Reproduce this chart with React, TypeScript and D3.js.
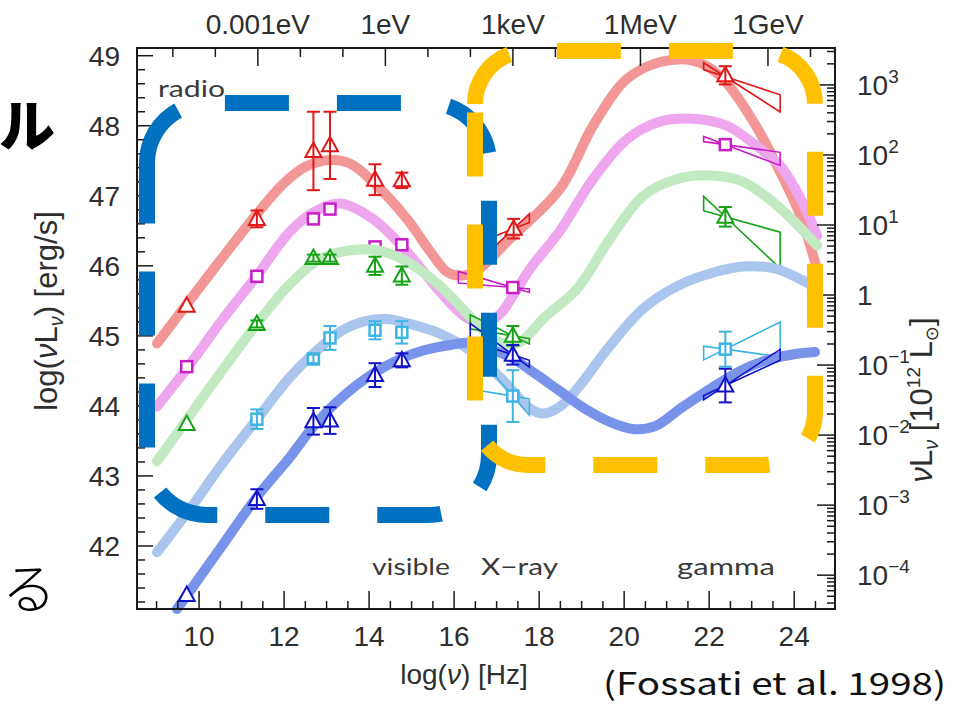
import React from 'react';
import * as d3 from 'd3';

const W = 954;
const H = 707;
const FRAME = { left: 137, right: 835, top: 48, bottom: 609 };
const X_DOMAIN: [number, number] = [8.54, 24.96];
const Y_DOMAIN: [number, number] = [41.1, 49.11];

// log10 of 10^12 solar luminosities in erg/s
const LOG_1E12_LSUN = 45.583;

// Model SEDs: [log(nu) Hz, log(nu L_nu) erg/s]
const curveRed: [number, number][] = [
  [9.01, 44.89], [9.72, 45.46], [10.49, 46.07], [11.36, 46.74], [11.98, 47.17], [12.49, 47.41],
  [13.08, 47.51], [13.55, 47.46], [14.09, 47.2], [14.89, 46.67], [15.44, 46.2], [15.84, 45.91],
  [16.14, 45.86], [16.49, 45.91], [17.32, 46.39], [18.49, 47.1], [19.27, 48.0], [20.07, 48.67],
  [20.85, 48.91], [21.62, 48.93], [22.26, 48.71], [23.04, 48.06], [23.67, 47.34], [24.15, 46.71],
  [24.45, 46.14], [24.56, 45.89],
];
const curveMagenta: [number, number][] = [
  [9.01, 43.99], [9.72, 44.54], [10.56, 45.24], [11.36, 45.86], [12.14, 46.49], [12.68, 46.76],
  [13.32, 46.89], [14.09, 46.67], [14.89, 46.2], [15.67, 45.63], [16.26, 45.27], [16.66, 45.17],
  [17.08, 45.31], [17.39, 45.58], [17.79, 45.96], [18.49, 46.5], [19.27, 47.24], [20.07, 47.81],
  [20.85, 48.06], [21.62, 48.1], [22.42, 48.0], [23.2, 47.67], [23.67, 47.43], [24.15, 46.96],
  [24.54, 46.43],
];
const curveGreen: [number, number][] = [
  [9.01, 43.21], [9.72, 43.81], [10.49, 44.46], [11.36, 45.17], [12.14, 45.74], [12.85, 46.1],
  [13.55, 46.22], [14.21, 46.22], [14.89, 46.06], [15.67, 45.71], [16.38, 45.27], [16.85, 44.99],
  [17.2, 44.89], [17.55, 44.91], [18.14, 45.27], [18.89, 45.67], [19.67, 46.39], [20.45, 47.0],
  [21.25, 47.24], [22.02, 47.29], [22.8, 47.2], [23.6, 46.86], [24.54, 46.29],
];
const curveLightBlue: [number, number][] = [
  [9.01, 41.91], [9.79, 42.53], [10.54, 43.17], [11.36, 43.81], [12.14, 44.41], [12.68, 44.74],
  [13.32, 45.06], [13.91, 45.21], [14.42, 45.24], [14.96, 45.17], [15.67, 45.03], [16.38, 44.79],
  [17.08, 44.41], [17.55, 44.1], [17.79, 43.96], [18.09, 43.89], [18.49, 43.99], [18.89, 44.24],
  [19.67, 44.86], [20.45, 45.39], [21.25, 45.71], [22.02, 45.89], [22.8, 45.99], [23.55, 45.96],
  [24.14, 45.81], [24.56, 45.67],
];
const curveBlue: [number, number][] = [
  [9.48, 41.1], [9.72, 41.3], [10.49, 41.96], [11.36, 42.7], [12.14, 43.27], [12.68, 43.7],
  [13.32, 44.1], [14.09, 44.46], [14.73, 44.67], [15.27, 44.79], [15.91, 44.87], [16.38, 44.9],
  [16.85, 44.81], [17.32, 44.7], [17.91, 44.46], [18.49, 44.21], [19.08, 43.96], [19.67, 43.77],
  [20.21, 43.67], [20.73, 43.71], [21.32, 43.96], [22.02, 44.24], [22.73, 44.5], [23.44, 44.67],
  [24.02, 44.74], [24.49, 44.77],
];

// Measured points: [log(nu), log(nu L_nu), error]
const pointsRed: [number, number, number][] = [
  [9.71, 45.43, 0], [11.36, 46.67, 0.12], [12.69, 47.64, 0.56], [13.08, 47.72, 0.48],
  [14.14, 47.23, 0.22], [14.77, 47.22, 0.11], [17.4, 46.53, 0.14], [22.38, 48.72, 0.13],
];
const pointsMagenta: [number, number, number][] = [
  [9.71, 44.56, 0], [11.36, 45.85, 0], [12.69, 46.67, 0], [13.08, 46.81, 0],
  [14.14, 46.27, 0], [14.77, 46.3, 0], [17.38, 45.69, 0], [22.38, 47.73, 0],
];
const pointsGreen: [number, number, number][] = [
  [9.71, 43.74, 0], [11.36, 45.17, 0.05], [12.69, 46.11, 0.05], [13.08, 46.11, 0.05],
  [14.14, 46.0, 0.13], [14.77, 45.86, 0.13], [17.38, 45.0, 0.14], [22.38, 46.7, 0.14],
];
const pointsCyan: [number, number, number][] = [
  [11.36, 43.81, 0.14], [12.69, 44.67, 0.06], [13.08, 44.97, 0.17], [14.14, 45.08, 0.13],
  [14.77, 45.05, 0.16], [17.38, 44.14, 0.37], [22.38, 44.81, 0.25],
];
const pointsBlue: [number, number, number][] = [
  [9.71, 41.3, 0], [11.36, 42.67, 0.14], [12.69, 43.78, 0.19], [13.08, 43.79, 0.19],
  [14.14, 44.44, 0.17], [14.77, 44.65, 0.1], [17.38, 44.73, 0.14], [22.38, 44.29, 0.24],
];

// Spectral bow-ties: [pivot log(nu), pivot log(nu L_nu), left log(nu), right log(nu), slope A, slope B]
const bowtiesRed: number[][] = [[17.4, 46.53, 16.8, 17.77, 0.57, 0.24], [22.38, 48.7, 21.87, 23.67, -0.39, -0.2]];
const bowtiesMagenta: number[][] = [[17.38, 45.69, 16.1, 17.77, -0.05, -0.18], [22.38, 47.73, 21.87, 23.67, -0.085, -0.23]];
const bowtiesGreen: number[][] = [[17.38, 45.0, 16.38, 17.77, -0.1, -0.3], [22.38, 46.7, 21.87, 23.67, -0.17, -0.57]];
const bowtiesCyan: number[][] = [[17.38, 44.14, 16.38, 17.77, -0.1, -0.7], [22.38, 44.81, 21.87, 23.67, 0.3, -0.085]];
const bowtiesBlue: number[][] = [[17.38, 44.73, 16.38, 17.77, -0.2, -0.45], [22.38, 44.29, 21.87, 23.67, 0.4, 0.28]];

// Axis ticks and labels
const bottomTicks = [10, 12, 14, 16, 18, 20, 22, 24];
const leftTicks = [42, 43, 44, 45, 46, 47, 48, 49];
const rightDecades = [-4, -3, -2, -1, 0, 1, 2, 3];
const energyLabels = ['0.001eV', '1eV', '1keV', '1MeV', '1GeV'];
const energyLogNu = [11.383, 14.383, 17.383, 20.383, 23.383];
const bandLabels = ['radio', 'visible', 'X\u2212ray', 'gamma'];

const AXIS_FONT = "'Liberation Sans', Arial, Helvetica, sans-serif";
const BAND_FONT = "Lato, 'Open Sans', sans-serif";
const JP_FONT = "'Noto Sans CJK JP', 'Noto Sans CJK SC', sans-serif";

function roundRect(x0: number, y0: number, x1: number, y1: number, r: number) {
  const p = d3.path();
  p.moveTo(x0, y0 + r);
  p.arcTo(x0, y0, x0 + r, y0, r);
  p.lineTo(x1 - r, y0);
  p.arcTo(x1, y0, x1, y0 + r, r);
  p.lineTo(x1, y1 - r);
  p.arcTo(x1, y1, x1 - r, y1, r);
  p.lineTo(x0 + r, y1);
  p.arcTo(x0, y1, x0, y1 - r, r);
  p.closePath();
  return p.toString();
}

export default function App() {
  const x = d3.scaleLinear().domain(X_DOMAIN).range([FRAME.left, FRAME.right]);
  const y = d3.scaleLinear().domain(Y_DOMAIN).range([FRAME.bottom, FRAME.top]);
  const line = d3
    .line<[number, number]>()
    .x((d) => x(d[0]))
    .y((d) => y(d[1]))
    .curve(d3.curveCatmullRom.alpha(0.5));

  const series = [
    { curve: curveRed, curveColor: '#F29696', color: '#E01818', marker: 'tri', points: pointsRed, bowties: bowtiesRed },
    { curve: curveMagenta, curveColor: '#EEA6EE', color: '#C81EC8', marker: 'sq', points: pointsMagenta, bowties: bowtiesMagenta },
    { curve: curveGreen, curveColor: '#C2EAC2', color: '#16A216', marker: 'tri', points: pointsGreen, bowties: bowtiesGreen },
    { curve: curveLightBlue, curveColor: '#ABC6EE', color: '#3DB4E4', marker: 'sq', points: pointsCyan, bowties: bowtiesCyan },
    { curve: curveBlue, curveColor: '#7893EA', color: '#1212C8', marker: 'tri', points: pointsBlue, bowties: bowtiesBlue },
  ];

  const bowtiePath = (b: number[]) => {
    const [vp, lp, vl, vr, sa, sb] = b;
    const at = (v: number, s: number) => lp + s * (v - vp);
    const pts: [number, number][] = [
      [vl, at(vl, sa)], [vp, lp], [vr, at(vr, sa)], [vr, at(vr, sb)], [vp, lp], [vl, at(vl, sb)],
    ];
    return 'M' + pts.map((d) => `${x(d[0])},${y(d[1])}`).join('L') + 'Z';
  };

  const leftMinor = d3.range(41.2, 49.1, 0.2).filter((v) => v >= Y_DOMAIN[0] && v <= Y_DOMAIN[1]);
  const bottomMinor = d3.range(9, 25, 0.5);
  const topTicks = d3.range(9.383, 24.9, 1);
  const rightMinor: number[] = [];
  for (let d = -5; d <= 3; d++) {
    for (let k = 2; k <= 9; k++) {
      const L = LOG_1E12_LSUN + d + Math.log10(k);
      if (L > Y_DOMAIN[0] && L < Y_DOMAIN[1]) rightMinor.push(L);
    }
  }

  const axisColor = '#1a1a1a';
  const textColor = '#2e2e2e';

  return (
    <div style={{ position: 'absolute', left: 0, top: 0, width: W, height: H, background: '#fff' }}>
      <svg width={W} height={H} viewBox={`0 0 ${W} ${H}`} style={{ display: 'block' }}>
        <rect width={W} height={H} fill="#fff" />

        {/* model curves with data */}
        {series.map((s, i) => (
          <g key={i}>
            <path d={line(s.curve) || ''} fill="none" stroke={s.curveColor} strokeWidth={10} strokeLinecap="round" strokeLinejoin="round" />
            {s.bowties.map((b, j) => (
              <path key={j} d={bowtiePath(b)} fill="none" stroke={s.color} strokeWidth={1.6} strokeLinejoin="miter" />
            ))}
            {s.points.map((p, j) => {
              const cx = x(p[0]);
              const cy = y(p[1]);
              const y0 = y(p[1] - p[2]);
              const y1 = y(p[1] + p[2]);
              return (
                <g key={j} stroke={s.color} strokeWidth={2} fill="#fff">
                  {s.marker === 'tri' ? (
                    <path d={`M${cx},${cy - 8.5}L${cx + 8},${cy + 6}L${cx - 8},${cy + 6}Z`} />
                  ) : (
                    <rect x={cx - 5.5} y={cy - 5.5} width={11} height={11} strokeWidth={2.5} />
                  )}
                  {p[2] > 0 && (
                    <g fill="none">
                      <line x1={cx} x2={cx} y1={y0} y2={y1} />
                      <line x1={cx - 6.5} x2={cx + 6.5} y1={y0} y2={y0} />
                      <line x1={cx - 6.5} x2={cx + 6.5} y1={y1} y2={y1} />
                    </g>
                  )}
                </g>
              );
            })}
          </g>
        ))}

        {/* frame */}
        <rect x={FRAME.left} y={FRAME.top} width={FRAME.right - FRAME.left} height={FRAME.bottom - FRAME.top} fill="none" stroke={axisColor} strokeWidth={2} />

        {/* left axis */}
        <g stroke={axisColor} strokeWidth={1.5}>
          {leftMinor.map((v, i) => {
            const major = Math.abs(v - Math.round(v)) < 1e-6;
            return <line key={i} x1={FRAME.left} x2={FRAME.left + (major ? 16 : 8)} y1={y(v)} y2={y(v)} />;
          })}
        </g>
        <g fontFamily={AXIS_FONT} fontSize={28} fill={textColor} textAnchor="end">
          {leftTicks.map((v) => (
            <text key={v} x={120} y={y(v) + 10}>{v}</text>
          ))}
        </g>

        {/* bottom axis */}
        <g stroke={axisColor} strokeWidth={1.5}>
          {bottomMinor.map((v, i) => {
            const major = Math.abs(v / 2 - Math.round(v / 2)) < 1e-6;
            return <line key={i} x1={x(v)} x2={x(v)} y1={FRAME.bottom} y2={FRAME.bottom - (major ? 18 : 8)} />;
          })}
        </g>
        <g fontFamily={AXIS_FONT} fontSize={28} fill={textColor} textAnchor="middle">
          {bottomTicks.map((v) => (
            <text key={v} x={x(v)} y={646}>{v}</text>
          ))}
        </g>

        {/* top energy axis */}
        <g stroke={axisColor} strokeWidth={1.5}>
          {topTicks.map((v, i) => {
            const major = energyLogNu.some((e) => Math.abs(e - v) < 1e-3);
            return <line key={i} x1={x(v)} x2={x(v)} y1={FRAME.top} y2={FRAME.top + (major ? 18 : 9)} />;
          })}
        </g>
        <g fontFamily={AXIS_FONT} fontSize={28} fill={textColor} textAnchor="middle">
          {energyLabels.map((t, i) => (
            <text key={t} x={x(energyLogNu[i])} y={34}>{t}</text>
          ))}
        </g>

        {/* right axis in 10^12 solar luminosities */}
        <g stroke={axisColor} strokeWidth={1.5}>
          {rightDecades.map((d) => (
            <line key={d} x1={FRAME.right} x2={FRAME.right - 18} y1={y(LOG_1E12_LSUN + d)} y2={y(LOG_1E12_LSUN + d)} />
          ))}
          {rightMinor.map((L, i) => (
            <line key={i} x1={FRAME.right} x2={FRAME.right - 8} y1={y(L)} y2={y(L)} />
          ))}
        </g>
        <g fontFamily={AXIS_FONT} fontSize={28} fill={textColor}>
          {rightDecades.map((d) => (
            <text key={d} x={857} y={y(LOG_1E12_LSUN + d) + 10}>
              {d === 0 ? '1' : '10'}
              {d !== 0 && (
                <tspan fontSize={19} dy={-12}>{d < 0 ? `\u2212${-d}` : `${d}`}</tspan>
              )}
            </text>
          ))}
        </g>

        {/* axis titles */}
        <text transform="translate(57,311) rotate(-90)" textAnchor="middle" fontFamily={AXIS_FONT} fontSize={31} fill={textColor}>
          log(<tspan fontStyle="italic">ν</tspan>L<tspan fontSize={20} dy={6} fontStyle="italic">ν</tspan>
          <tspan dy={-6}>) [erg/s]</tspan>
        </text>
        <text x={464} y={684} textAnchor="middle" fontFamily={AXIS_FONT} fontSize={28} fill={textColor}>
          log(<tspan fontStyle="italic">ν</tspan>) [Hz]
        </text>
        <text transform="translate(932,400) rotate(-90)" textAnchor="middle" fontFamily={AXIS_FONT} fontSize={31} fill={textColor}>
          <tspan fontStyle="italic">ν</tspan>L<tspan fontSize={20} dy={6} fontStyle="italic">ν</tspan>
          <tspan dy={-6}> [10</tspan>
          <tspan fontSize={19} dy={-12}>12</tspan>
          <tspan dy={12}> L</tspan>
          <tspan fontSize={18} dy={6} fontFamily="'DejaVu Sans', sans-serif">⊙</tspan>
          <tspan dy={-6}>]</tspan>
        </text>

        {/* band names */}
        <g fontFamily={BAND_FONT} fontSize={24} fill="#3a3a3a">
          <text x={158} y={97} textLength={67} lengthAdjust="spacingAndGlyphs">{bandLabels[0]}</text>
          <text x={372} y={575} textLength={78} lengthAdjust="spacingAndGlyphs">{bandLabels[1]}</text>
          <text x={481} y={575} textLength={77} lengthAdjust="spacingAndGlyphs">{bandLabels[2]}</text>
          <text x={677} y={575} textLength={98} lengthAdjust="spacingAndGlyphs">{bandLabels[3]}</text>
        </g>

        {/* highlighted regions */}
        <path d={roundRect(147, 103, 489, 515, 60)} fill="none" stroke="#0070C0" strokeWidth={16} strokeDasharray="64 48" />
        <path d={roundRect(475, 51, 815, 465, 53)} fill="none" stroke="#FFC000" strokeWidth={16} strokeDasharray="64 48" />

        {/* slide text around the figure */}
        <text x={-1} y={146} fontFamily={JP_FONT} fontSize={56} fontWeight={900} fill="#000">ル</text>
        <text x={2} y={609} fontFamily={JP_FONT} fontSize={54} fontWeight={300} fill="#000">る</text>
        <text x={603} y={695} fontFamily={JP_FONT} fontSize={31} fill="#111" textLength={343} lengthAdjust="spacingAndGlyphs">
          (Fossati et al. 1998)
        </text>
      </svg>
    </div>
  );
}
